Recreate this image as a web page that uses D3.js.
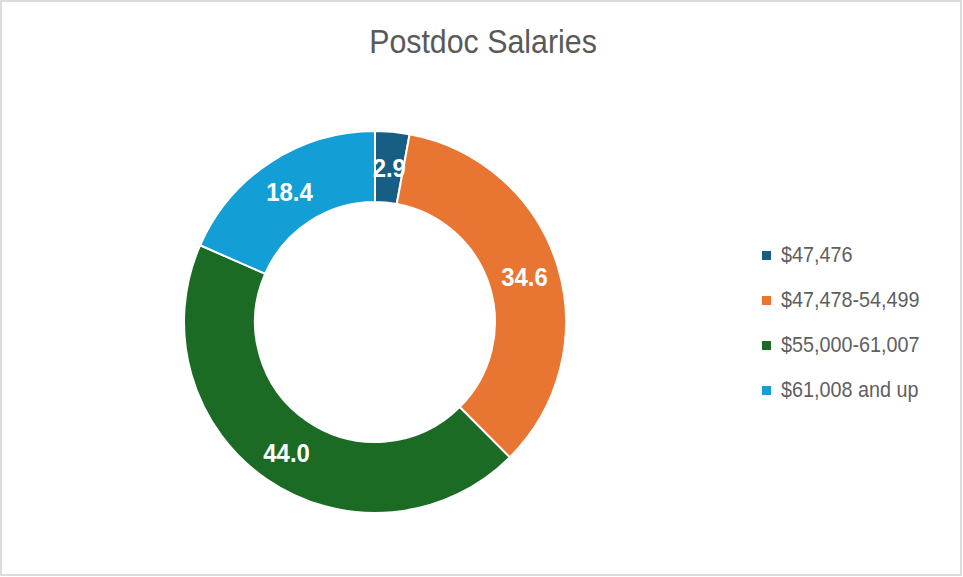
<!DOCTYPE html>
<html>
<head>
<meta charset="utf-8">
<script src="https://cdn.jsdelivr.net/npm/d3@7"></script>
<style>
  body { margin: 0; background: #fff; }
  svg { display: block; font-family: "Liberation Sans", Arial, sans-serif; }
</style>
</head>
<body>
<div id="chart"></div>
<script>
// chart size
const width = 963,
  height = 577;

// data
const categories = ["$47,476", "$47,478-54,499", "$55,000-61,007", "$61,008 and up"];
const values = [2.9, 34.6, 44.0, 18.4];
const colors = ["#165e83", "#e87532", "#1b6b25", "#139fd6"];
const title = "Postdoc Salaries";

const cx = 375, cy = 322;
const outerR = 191, innerR = 120;

const svg = d3.select("#chart")
  .append("svg")
  .attr("width", width)
  .attr("height", height);

// frame around the picture
svg.append("rect")
  .attr("x", 1)
  .attr("y", 1)
  .attr("width", width - 3)
  .attr("height", height - 3)
  .attr("fill", "#fff")
  .attr("stroke", "#dcdcdc")
  .attr("stroke-width", 2);

// title
svg.append("text")
  .attr("transform", `translate(483, 53) scale(0.92, 1)`)
  .attr("text-anchor", "middle")
  .style("font-size", "33px")
  .style("fill", "#595959")
  .text(title);

const slices = categories.map((c, i) => ({ name: c, value: values[i], color: colors[i] }));

const pie = d3.pie()
  .sort(null)
  .value(d => d.value);

const arc = d3.arc()
  .innerRadius(innerR)
  .outerRadius(outerR);

const labelArc = d3.arc()
  .innerRadius((innerR + outerR) / 2 + 1)
  .outerRadius((innerR + outerR) / 2 + 1);

const donut = svg.append("g")
  .attr("transform", `translate(${cx},${cy})`);

donut.selectAll(".slice")
  .data(pie(slices))
  .join("path")
  .attr("class", "slice")
  .attr("d", arc)
  .attr("fill", d => d.data.color)
  .attr("stroke", "#fff")
  .attr("stroke-width", 2);

// value labels inside the ring
donut.selectAll(".val")
  .data(pie(slices))
  .join("text")
  .attr("class", "val")
  .attr("transform", d => `translate(${labelArc.centroid(d)}) scale(0.92, 1)`)
  .attr("text-anchor", "middle")
  .attr("dy", "0.4em")
  .style("font-size", "26px")
  .style("font-weight", "bold")
  .style("fill", "#fff")
  .text(d => d3.format(".1f")(d.data.value));

// legend
const yLegend = d3.scalePoint()
  .domain(categories)
  .range([254, 389]);

const legend = svg.append("g");

const rows = legend.selectAll(".row")
  .data(slices)
  .join("g")
  .attr("class", "row")
  .attr("transform", d => `translate(762, ${yLegend(d.name)})`);

rows.append("rect")
  .attr("x", 0)
  .attr("y", -3)
  .attr("width", 9)
  .attr("height", 9)
  .attr("fill", d => d.color);

rows.append("text")
  .attr("transform", "translate(19, 0) scale(0.9, 1)")
  .attr("dy", "0.35em")
  .style("font-size", "22px")
  .style("fill", "#5f5f5f")
  .text(d => d.name);
</script>
</body>
</html>
